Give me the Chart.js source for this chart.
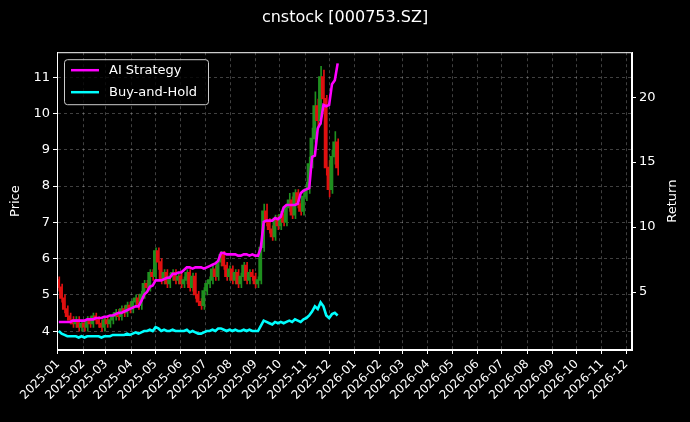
<!DOCTYPE html>
<html><head><meta charset="utf-8">
<script src="https://cdn.jsdelivr.net/npm/chart.js@4.4.1/dist/chart.umd.min.js"></script>
<style>html,body{margin:0;padding:0;background:#000;}#c{display:block;}</style>
</head><body>
<canvas id="c" width="690" height="422" style="width:690px;height:422px"></canvas>
<script>
const title = "cnstock [000753.SZ]";
const startDate = "2025-01-02";
const stepDays = 3.5;
const openP = [5.4,5.2,4.9,4.6,4.4,4.3,4.2,4.3,4.1, 4.2,4.1,4.3,4.2,4.4,4.3,4.2,4.1,4.3, 4.2,4.3,4.4,4.5,4.4,4.6,4.5,4.7,4.6, 4.8,4.9,4.7,5.0,5.3,5.2,5.6,5.5, 6.2,5.9,5.4,5.6,5.3,5.5,5.6,5.4,5.5, 5.3,5.4,5.6,5.2,5.5,5.0,4.8,4.7,5.1, 5.3,5.4,5.7,5.5,5.9,6.1,5.8,5.5,5.7, 5.4,5.6,5.3,5.5,5.8,5.4,5.6,5.5,5.3, 5.4,6.3,7.3,7.0,6.8,6.6,7.1,6.9, 7.2,7.0,7.4,7.6,7.2,7.8,7.5,7.3,7.7, 7.9,8.6,9.3,10.2,9.8,11.0,10.4,8.5, 7.9,8.8,9.2];
const closeP = [5.2,4.9,4.6,4.4,4.3,4.2,4.3,4.1,4.2, 4.1,4.3,4.2,4.4,4.3,4.2,4.1,4.3,4.2, 4.3,4.4,4.5,4.4,4.6,4.5,4.7,4.6,4.8, 4.9,4.7,5.0,5.3,5.2,5.6,5.5,6.2, 5.9,5.4,5.6,5.3,5.5,5.6,5.4,5.5,5.3, 5.4,5.6,5.2,5.5,5.0,4.8,4.7,5.1,5.3, 5.4,5.7,5.5,5.9,6.1,5.8,5.5,5.7,5.4, 5.6,5.3,5.5,5.8,5.4,5.6,5.5,5.3,5.4, 6.3,7.3,7.0,6.8,6.6,7.1,6.9,7.2, 7.0,7.4,7.6,7.2,7.8,7.5,7.3,7.7,7.9, 8.6,9.3,10.2,9.8,11.0,10.4,8.5,7.9, 8.8,9.2,8.5];
const highP = [5.5,5.3,5.0,4.7,4.5,4.4,4.4,4.4,4.3, 4.3,4.4,4.4,4.5,4.5,4.4,4.3,4.4,4.4, 4.4,4.5,4.6,4.6,4.7,4.7,4.8,4.8,4.9, 5.0,5.0,5.1,5.4,5.4,5.7,5.7,6.3, 6.3,6.0,5.7,5.7,5.6,5.7,5.7,5.6,5.6, 5.5,5.7,5.7,5.6,5.6,5.1,4.9,5.2,5.4, 5.5,5.8,5.8,6.0,6.2,6.2,5.9,5.8,5.8, 5.7,5.7,5.6,5.9,5.9,5.7,5.7,5.6,5.5, 6.4,7.5,7.5,7.1,6.9,7.2,7.2,7.3, 7.3,7.5,7.8,7.7,7.9,7.9,7.6,7.8,8.1, 8.8,9.6,10.6,10.4,11.3,11.2,10.5,8.7, 9.0,9.5,9.3];
const lowP = [5.1,4.8,4.5,4.3,4.2,4.1,4.1,4.0,4.0, 4.0,4.0,4.1,4.1,4.2,4.1,4.0,4.0,4.1, 4.1,4.2,4.3,4.3,4.3,4.4,4.4,4.5,4.5, 4.7,4.6,4.6,4.9,5.1,5.1,5.4,5.4, 5.7,5.3,5.3,5.2,5.2,5.4,5.3,5.3,5.2, 5.2,5.3,5.1,5.1,4.9,4.7,4.6,4.6,5.0, 5.2,5.3,5.4,5.4,5.8,5.7,5.4,5.4,5.3, 5.3,5.2,5.2,5.4,5.3,5.3,5.4,5.2,5.2, 5.3,6.2,6.9,6.7,6.5,6.5,6.8,6.8, 6.9,6.9,7.3,7.1,7.1,7.4,7.2,7.2,7.6, 7.8,8.5,9.2,9.6,9.7,10.2,8.3,7.7, 7.8,8.6,8.3];
const aiReturn = [2.7,2.7,2.7,2.7,2.7,2.8,2.8,2.8,2.8, 2.8,2.9,2.9,2.9,3.0,3.0,3.0,3.1,3.1, 3.2,3.2,3.3,3.4,3.4,3.5,3.6,3.7,3.8, 3.9,3.9,4.3,4.8,5.0,5.4,5.5,5.9, 5.9,5.9,6.0,6.1,6.1,6.4,6.4,6.5,6.5, 6.7,6.9,6.9,6.8,6.9,6.9,6.9,6.8,6.9, 7.0,7.1,7.2,7.4,8.0,8.0,7.9,7.9,7.9, 7.9,7.8,7.8,7.9,7.9,7.8,7.9,7.8,7.8, 8.4,10.4,10.5,10.5,10.5,10.7,10.6,10.8, 11.5,11.7,11.7,11.7,11.7,11.8,12.6,12.8,12.9, 13.0,15.4,15.5,17.6,18.0,19.4,19.3,19.4, 21.0,21.3,22.6];
const bhReturn = [2.0,1.8,1.7,1.6,1.6,1.6,1.6,1.5,1.6, 1.5,1.6,1.6,1.6,1.6,1.6,1.5,1.6,1.6, 1.6,1.7,1.7,1.7,1.7,1.7,1.8,1.7,1.8, 1.9,1.8,1.9,2.0,2.0,2.1,2.0,2.3, 2.2,2.0,2.1,2.0,2.0,2.1,2.0,2.0,2.0, 2.0,2.1,1.9,2.0,1.9,1.8,1.8,1.9,2.0, 2.0,2.1,2.0,2.2,2.2,2.1,2.0,2.1,2.0, 2.1,2.0,2.0,2.1,2.0,2.1,2.0,2.0,2.0, 2.4,2.8,2.7,2.6,2.5,2.7,2.6,2.7, 2.6,2.7,2.8,2.7,2.9,2.8,2.7,2.9,3.0, 3.2,3.5,3.9,3.7,4.2,3.9,3.2,3.0, 3.3,3.4,3.2];
const priceTicks = [4,5,6,7,8,9,10,11];
const returnTicks = [5,10,15,20];
const monthTicks = [];
for (let y=2025;y<=2026;y++) for (let m=0;m<12;m++) monthTicks.push(Date.UTC(y,m,1));

const DAY = 86400000;
const t0 = Date.parse(startDate+"T00:00:00Z");
const xs = closeP.map((_,i)=>t0+i*stepDays*DAY);
const UP='#1f8f1f', DOWN='#e01010';
const cols = closeP.map((c,i)=> c>=openP[i]?UP:DOWN);
const FONT = "'DejaVu Sans', sans-serif";

const bg = {id:'bg', beforeDraw(c){const x=c.ctx;x.save();x.fillStyle='#000';x.fillRect(0,0,c.width,c.height);x.restore();}};
const frame = {id:'frame', afterDraw(c){const a=c.chartArea,x=c.ctx;x.save();x.strokeStyle='#fff';x.lineWidth=1;x.strokeRect(a.left+0.5,a.top+0.5,a.right-a.left-1,a.bottom-a.top-1);
  x.fillStyle='#fff';x.font='13px '+FONT;x.textAlign='center';x.textBaseline='middle';
  x.save();x.translate(673,(a.top+a.bottom)/2);x.rotate(-Math.PI/2);x.fillText('Return',0,0);x.restore();
  x.save();x.translate(16,(a.top+a.bottom)/2);x.rotate(-Math.PI/2);x.fillText('Price',0,0);x.restore();
  x.textAlign='left';
  const items=[{l:c.data.datasets[2].label,col:c.data.datasets[2].borderColor},{l:c.data.datasets[3].label,col:c.data.datasets[3].borderColor}];
  const bx=a.left+7, by=a.top+7, bw=144, bh=45;
  x.fillStyle='rgba(0,0,0,0.8)';x.strokeStyle='#ccc';x.lineWidth=1;
  x.beginPath();x.roundRect(bx+0.5,by+0.5,bw,bh,3);x.fill();x.stroke();
  x.font='13px '+FONT;x.textBaseline='middle';
  items.forEach((it,i)=>{const yy=by+11+i*22;x.strokeStyle=it.col;x.lineWidth=2.5;x.beginPath();x.moveTo(bx+7,yy);x.lineTo(bx+35,yy);x.stroke();x.fillStyle='#fff';x.fillText(it.l,bx+45,yy);});
  x.restore();}};

new Chart(document.getElementById('c'), {
  data:{datasets:[
    {type:'bar',label:'wick',data:xs.map((x,i)=>({x,y:[lowP[i],highP[i]]})),backgroundColor:cols,barThickness:1,yAxisID:'y',order:3},
    {type:'bar',label:'body',data:xs.map((x,i)=>({x,y:[Math.min(openP[i],closeP[i]),Math.max(openP[i],closeP[i])+0.02]})),backgroundColor:cols,barThickness:2.2,yAxisID:'y',order:2},
    {type:'line',label:'AI Strategy',data:xs.map((x,i)=>({x,y:aiReturn[i]})),borderColor:'#ff00ff',borderWidth:2.6,pointRadius:0,yAxisID:'y2',order:1},
    {type:'line',label:'Buy-and-Hold',data:xs.map((x,i)=>({x,y:bhReturn[i]})),borderColor:'#00ffff',borderWidth:2.6,pointRadius:0,yAxisID:'y2',order:1}
  ]},
  options:{responsive:false,animation:false,devicePixelRatio:1,
    layout:{padding:{top:0,right:0,bottom:0,left:0}},
    plugins:{legend:{display:false},tooltip:{enabled:false},
      title:{display:true,text:title,color:'#fff',font:{family:FONT,size:16,weight:'normal'},padding:{top:8,bottom:25}}},
    scales:{
      x:{type:'linear',offset:false,min:Date.UTC(2024,11,31)-0.2*DAY,max:Date.UTC(2026,11,8),
        afterBuildTicks(s){s.ticks=monthTicks.map(v=>({value:v}));},
        afterFit(s){s.height=72;},
        ticks:{color:'#fff',font:{family:FONT,size:12},maxRotation:45,minRotation:45,autoSkip:false,
          callback(v){const d=new Date(v);return d.getUTCFullYear()+'-'+String(d.getUTCMonth()+1).padStart(2,'0');}},
        grid:{offset:false,color:'rgba(255,255,255,0.25)',tickColor:'#fff',tickLength:4},border:{color:'#fff',dash:[3,3]}},
      y:{position:'left',min:3.48,max:11.69,
        afterBuildTicks(s){s.ticks=priceTicks.map(v=>({value:v}));},
        afterFit(s){s.width=57;},
        ticks:{color:'#fff',font:{family:FONT,size:13}},
        grid:{color:'rgba(255,255,255,0.25)',tickColor:'#fff',tickLength:4},border:{color:'#fff',dash:[3,3]}},
      y2:{position:'right',min:0.54,max:23.46,
        afterBuildTicks(s){s.ticks=returnTicks.map(v=>({value:v}));},
        afterFit(s){s.width=58;},
        ticks:{color:'#fff',font:{family:FONT,size:13}},
        grid:{drawOnChartArea:false,tickColor:'#fff',tickLength:4},border:{color:'#fff'}}
    }},
  plugins:[bg,frame]
});
</script></body></html>
